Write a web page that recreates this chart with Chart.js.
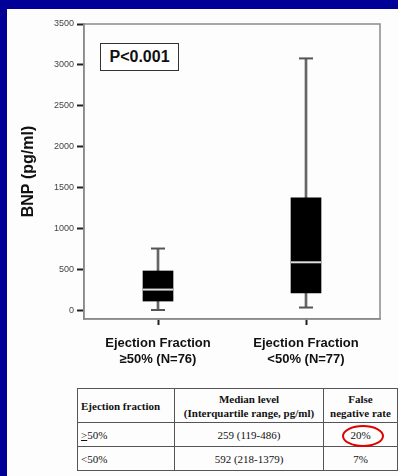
<!DOCTYPE html>
<html>
<head>
<meta charset="utf-8">
<script src="https://cdn.jsdelivr.net/npm/chart.js@4.4.0/dist/chart.umd.min.js"></script>
<style>
    html, body { margin: 0; padding: 0; }
    body { width: 398px; height: 476px; background: #000099; position: relative; overflow: hidden; }
    #panel { position: absolute; left: 7px; top: 9px; right: 0; bottom: 0; background: #fdfdfd; }
    #chart { position: absolute; left: 0; top: 0; }
    #pbox {
        position: absolute; left: 100px; top: 43px; width: 77px; height: 26px;
        border: 1.5px solid #333; background: #fff;
        font: bold 16px "Liberation Sans", Arial, sans-serif; color: #111;
        text-align: center; line-height: 26px;
    }
    table {
        position: absolute; left: 77px; top: 388px; width: 320px;
        table-layout: fixed; box-sizing: border-box;
        border-collapse: collapse; border: 1.5px solid #444;
        font-family: "Liberation Serif", "Times New Roman", serif; font-size: 11px; color: #111;
    }
    td, th { border: 1px solid #555; padding: 0 3px; text-align: center; white-space: nowrap; overflow: hidden; }
    th { font-weight: bold; height: 33px; line-height: 14px; }
    td { height: 23px; }
    .first { text-align: left; }
    #ring {
        position: absolute; left: 342px; top: 425px; width: 38px; height: 18px;
        border: 2px solid #e00000; border-radius: 50%;
    }
</style>
</head>
<body>
<div id="panel"></div>
<canvas id="chart" width="398" height="380"></canvas>
<div id="pbox">P&lt;0.001</div>

<table>
    <colgroup><col style="width:97px"><col style="width:149px"><col style="width:74px"></colgroup>
    <tr>
        <th class="first">Ejection fraction</th>
        <th>Median level<br>(Interquartile range, pg/ml)</th>
        <th>False<br>negative rate</th>
    </tr>
    <tr><td class="first"><u>&gt;</u>50%</td><td>259 (119-486)</td><td>20%</td></tr>
    <tr><td class="first">&lt;50%</td><td>592 (218-1379)</td><td>7%</td></tr>
</table>
<div id="ring"></div>

<script>
// BNP by ejection fraction group
const categories = [
    ["Ejection Fraction", "\u226550% (N=76)"],
    ["Ejection Fraction", "<50% (N=77)"]
];
const q1 = [119, 218];
const median = [259, 592];
const q3 = [486, 1379];
const whiskerLow = [10, 40];
const whiskerHigh = [760, 3080];
const yTicks = [0, 500, 1000, 1500, 2000, 2500, 3000, 3500];

// grey frame around the plot area (top/right sides included)
const framePlugin = {
    id: "frame",
    beforeDatasetsDraw(chart) {
        const { ctx, chartArea: a } = chart;
        ctx.save();
        ctx.strokeStyle = "#8a8a8a";
        ctx.lineWidth = 1.5;
        ctx.strokeRect(a.left, a.top, a.right - a.left, a.bottom - a.top);
        ctx.restore();
    }
};

const ctx = document.getElementById("chart").getContext("2d");
new Chart(ctx, {
    data: {
        labels: categories,
        datasets: [
            {
                type: "line",
                data: median,
                showLine: false,
                pointStyle: "line",
                pointRadius: 15,
                pointBorderColor: "#dddddd",
                pointBorderWidth: 2,
                order: 0
            },
            {
                type: "bar",
                data: q1.map((v, i) => [v, q3[i]]),
                backgroundColor: "#000000",
                barThickness: 30,
                grouped: false,
                order: 1
            },
            {
                type: "line",
                data: whiskerHigh,
                showLine: false,
                pointStyle: "line",
                pointRadius: 7,
                pointBorderColor: "#555555",
                pointBorderWidth: 2,
                order: 2
            },
            {
                type: "line",
                data: whiskerLow,
                showLine: false,
                pointStyle: "line",
                pointRadius: 7,
                pointBorderColor: "#555555",
                pointBorderWidth: 2,
                order: 2
            },
            {
                type: "bar",
                data: whiskerLow.map((v, i) => [v, whiskerHigh[i]]),
                backgroundColor: "#666666",
                barThickness: 2,
                grouped: false,
                order: 3
            }
        ]
    },
    options: {
        responsive: false,
        animation: false,
        layout: { padding: { left: 10, top: 24, right: 18, bottom: 0 } },
        plugins: {
            legend: { display: false },
            tooltip: { enabled: false }
        },
        scales: {
            x: {
                offset: true,
                afterFit(scale) { scale.height = 61; },
                border: { color: "#8a8a8a", width: 1.5 },
                grid: {
                    offset: false,
                    drawOnChartArea: false,
                    tickLength: 6,
                    tickColor: "#222",
                    tickWidth: 2
                },
                ticks: {
                    color: "#111",
                    padding: 11,
                    font: { family: "Liberation Sans, Arial, sans-serif", size: 13, weight: "bold" }
                }
            },
            y: {
                min: -100,
                max: 3500,
                afterFit(scale) { scale.width = 74; },
                afterBuildTicks(scale) { scale.ticks = yTicks.map(v => ({ value: v })); },
                border: { color: "#8a8a8a", width: 1.5 },
                grid: {
                    drawOnChartArea: false,
                    tickLength: 7,
                    tickColor: "#222",
                    tickWidth: 2
                },
                ticks: {
                    color: "#444",
                    padding: 3,
                    font: { family: "Liberation Sans, Arial, sans-serif", size: 9 },
                    callback: value => String(value)
                },
                title: {
                    display: true,
                    text: "BNP (pg/ml)",
                    color: "#111",
                    padding: { top: 9, bottom: 0 },
                    font: { family: "Liberation Sans, Arial, sans-serif", size: 16, weight: "bold" }
                }
            }
        }
    },
    plugins: [framePlugin]
});
</script>
</body>
</html>
